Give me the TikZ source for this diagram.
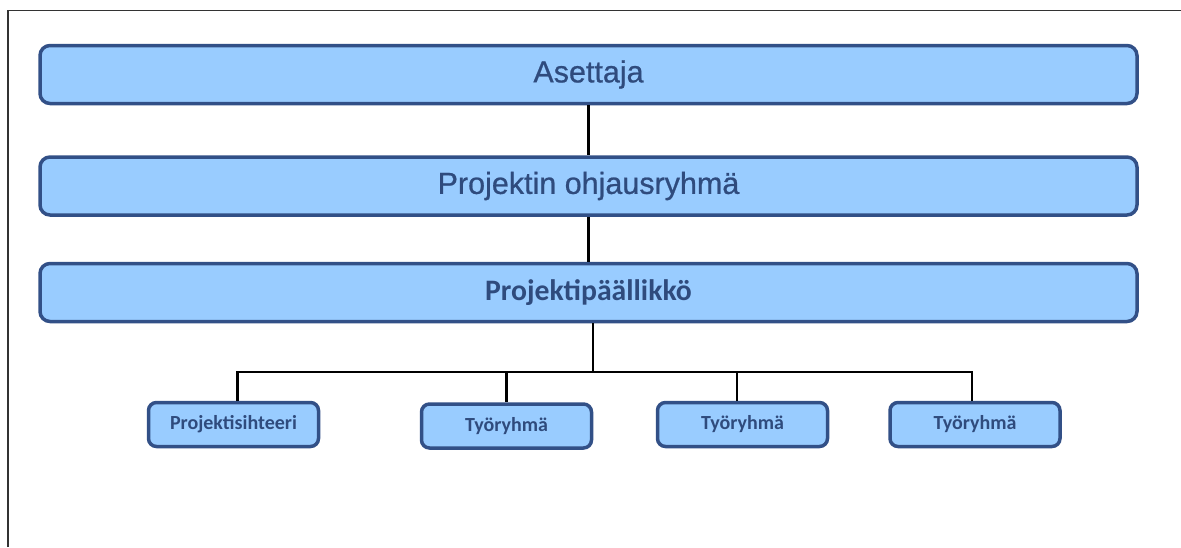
\documentclass[tikz,border=0pt]{standalone}
\usepackage{fontspec}
\newfontfamily\arialf{Liberation Sans}[FakeBold=0.7]
\newfontfamily\calib{Carlito}
\definecolor{boxfill}{HTML}{99CCFF}
\definecolor{boxline}{RGB}{50,80,135}
\definecolor{boxtext}{RGB}{47,75,125}
\begin{document}
\begin{tikzpicture}[x=1pt,y=-1pt,
  bigbox/.style={draw=boxline, fill=boxfill, line width=3.5pt, rounded corners=10pt,
    minimum width=1097pt, minimum height=58pt, inner sep=0pt, text=boxtext},
  smallbox/.style={draw=boxline, fill=boxfill, line width=3.5pt, rounded corners=8pt,
    minimum width=170pt, minimum height=44pt, inner sep=0pt, text=boxtext,
    font=\calib\bfseries\fontsize{20}{24}\selectfont},
  conn/.style={line width=2.5pt, black}]
\useasboundingbox (0,0) rectangle (1181,547);
\draw[line width=1.5pt, black!80] (8,547) -- (8,10.5) -- (1181,10.5);

\node[bigbox, font=\arialf\fontsize{30.5}{36}\selectfont] (as) at (588.5,74.5) {\raisebox{-2pt}{Asettaja}};
\node[bigbox, font=\arialf\fontsize{30.5}{36}\selectfont] (oh) at (588.5,186) {Projektin ohjausryhmä};
\node[bigbox, font=\calib\bfseries\fontsize{29.7}{36}\selectfont] (pm) at (588.5,292.5) {Projektipäällikkö};

\node[smallbox] (ps) at (233.5,424.5) {Projektisihteeri};
\node[smallbox] (t1) at (506.5,426) {Työryhmä};
\node[smallbox] (t2) at (742.5,424.5) {Työryhmä};
\node[smallbox] (t3) at (975,424.5) {Työryhmä};

\coordinate (bus) at (593,372);
\draw[conn] (as.south) -- (oh.north);
\draw[conn] (oh.south) -- (pm.north);
\draw[conn] (pm.south -| bus) -- (bus);
\draw[conn] (bus) -| ([xshift=4pt]ps.north);
\draw[conn] (bus) -| ([xshift=-3pt]t3.north);
\draw[conn] (bus) -| (t1.north);
\draw[conn] (bus) -| ([xshift=-5.5pt]t2.north);
\end{tikzpicture}
\end{document}
